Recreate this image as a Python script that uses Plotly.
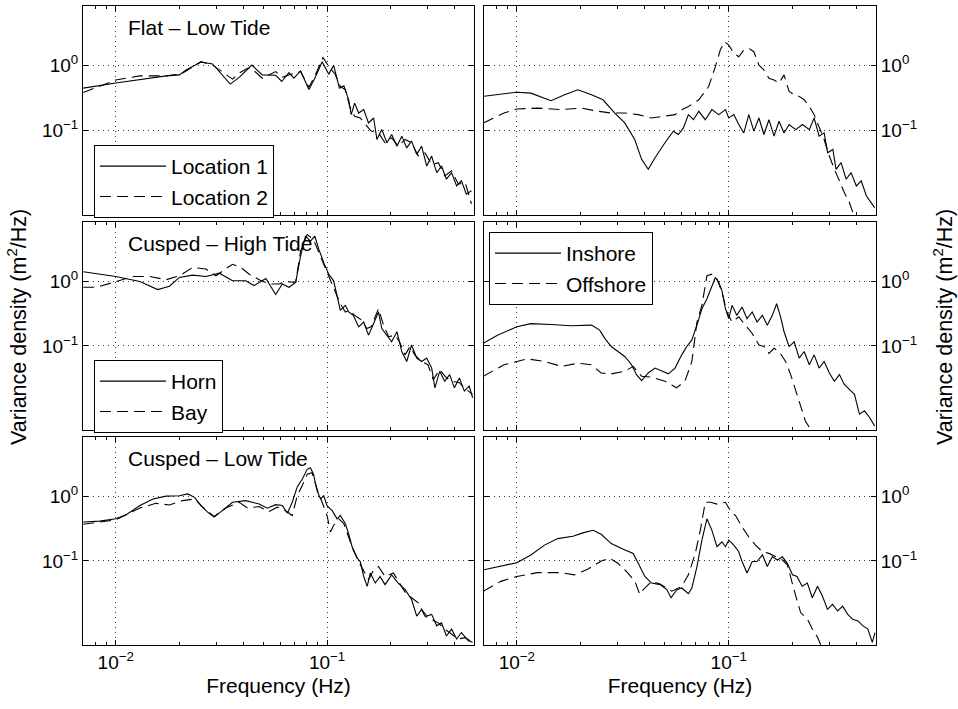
import math
import plotly.graph_objects as go

# ---------------- data (frequency Hz, variance density m^2/Hz) ----------------
flat_loc1 = [(0.00702,0.45),(0.01,0.54),(0.01734,0.695),(0.02,0.72),(0.0215,0.86),(0.0253,1.14),(0.0287,1.06),
             (0.032,0.72),(0.0348,0.52),(0.0384,0.66),(0.044,1.02),(0.0494,0.72),(0.0571,0.71),(0.061,0.57),
             (0.066,0.78),(0.0696,0.64),(0.0749,0.83),(0.082,0.43),(0.0875,0.64),(0.0947,1.15),(0.1018,0.74),
             (0.1074,1.01),(0.1143,0.45),(0.12,0.49),(0.1264,0.30),(0.130,0.176),(0.135,0.265),(0.141,0.186),
             (0.149,0.21),(0.157,0.131),(0.166,0.156),(0.172,0.073),(0.1815,0.1035),(0.192,0.065),(0.202,0.087),
             (0.214,0.0575),(0.2256,0.082),(0.238,0.054),(0.251,0.0687),(0.2654,0.043),(0.28,0.0575),
             (0.296,0.0284),(0.3124,0.0405),(0.33,0.0225),(0.348,0.0284),(0.367,0.0178),(0.388,0.0225),
             (0.41,0.014),(0.432,0.0168),(0.456,0.0105),(0.482,0.0118)]
flat_loc2 = [(0.00702,0.386),(0.01,0.60),(0.013,0.695),(0.0173,0.695),(0.0204,0.745),(0.0253,1.15),(0.0287,1.02),
             (0.0332,0.745),(0.0357,0.62),(0.0382,0.76),(0.042,0.91),(0.0443,0.88),(0.0494,0.64),(0.0571,0.81),
             (0.061,0.66),(0.066,0.72),(0.0749,0.81),(0.082,0.466),(0.088,0.72),(0.0955,1.34),(0.1018,0.97),
             (0.109,0.745),(0.1156,0.477),(0.122,0.425),(0.128,0.235),(0.135,0.166),(0.1435,0.156),(0.152,0.124),
             (0.1615,0.098),(0.175,0.092),(0.188,0.065),(0.202,0.077),(0.217,0.0575),(0.234,0.073),(0.251,0.065),
             (0.27,0.0405),(0.29,0.0455),(0.3124,0.030),(0.336,0.032),(0.36,0.020),(0.388,0.0239),
             (0.418,0.0149),(0.45,0.0158),(0.482,0.0074)]
flat_inshore = [(0.00695,0.336),(0.01,0.39),(0.01165,0.377),(0.0145,0.288),(0.0168,0.356),(0.0194,0.425),
                (0.0225,0.356),(0.0255,0.298),(0.029,0.186),(0.0323,0.131),(0.036,0.0728),(0.0388,0.036),
                (0.0417,0.0253),(0.0449,0.0382),(0.050,0.0648),(0.0548,0.0977),(0.0579,0.087),(0.0611,0.11),
                (0.0645,0.176),(0.0682,0.147),(0.0722,0.198),(0.0775,0.147),(0.0833,0.21),(0.0897,0.176),
                (0.0965,0.21),(0.1,0.156),(0.1057,0.176),(0.1115,0.124),(0.1178,0.092),(0.1244,0.176),
                (0.1314,0.098),(0.1388,0.156),(0.1466,0.087),(0.1548,0.147),(0.1636,0.082),(0.1727,0.139),
                (0.1824,0.092),(0.1927,0.124),(0.207,0.1035),(0.223,0.124),(0.24,0.1035),(0.253,0.156),
                (0.267,0.082),(0.282,0.092),(0.293,0.0455),(0.31,0.0512),(0.321,0.0253),(0.339,0.032),
                (0.358,0.0178),(0.378,0.0225),(0.40,0.014),(0.422,0.0168),(0.446,0.0099),(0.47,0.0078),(0.488,0.0065)]
flat_offshore = [(0.00695,0.131),(0.0087,0.186),(0.01,0.215),(0.0125,0.222),(0.0162,0.21),(0.0201,0.222),
                 (0.0242,0.198),(0.0279,0.186),(0.0323,0.186),(0.0374,0.176),(0.0432,0.156),(0.05,0.166),
                 (0.0558,0.176),(0.06,0.21),(0.0645,0.235),(0.0722,0.298),(0.0804,0.477),(0.0865,0.966),
                 (0.0912,1.74),(0.0957,2.33),(0.1,2.07),(0.1057,1.55),(0.1115,1.37),(0.1178,1.74),(0.1244,1.84),
                 (0.1314,1.64),(0.1388,1.02),(0.1466,0.86),(0.1548,0.64),(0.1636,0.60),(0.1727,0.54),(0.1824,0.72),
                 (0.1927,0.40),(0.2037,0.356),(0.215,0.336),(0.227,0.298),(0.24,0.235),(0.253,0.176),(0.267,0.116),
                 (0.282,0.0728),(0.2985,0.0405),(0.315,0.0253),(0.333,0.0168),(0.351,0.0111),(0.371,0.0078),(0.385,0.0055)]

high_horn = [(0.00702,1.41),(0.01,1.19),(0.013,0.995),(0.0158,0.745),(0.01795,0.84),(0.02,1.15),(0.0231,1.25),
             (0.0267,1.19),(0.0309,1.34),(0.0357,1.02),(0.0412,1.02),(0.0451,0.86),(0.0513,1.11),(0.0571,0.625),
             (0.0614,0.91),(0.066,0.81),(0.071,0.965),(0.0749,2.47),(0.079,5.0),(0.0834,4.19),(0.0875,5.0),
             (0.0914,3.13),(0.0964,1.95),(0.1018,1.29),(0.1074,1.02),(0.1114,0.60),(0.1155,0.356),(0.122,0.425),
             (0.1264,0.336),(0.133,0.298),(0.141,0.198),(0.149,0.235),(0.157,0.147),(0.166,0.222),(0.175,0.336),
             (0.1815,0.186),(0.192,0.147),(0.202,0.116),(0.214,0.166),(0.2256,0.082),(0.238,0.0575),(0.251,0.1035),
             (0.2654,0.065),(0.28,0.0575),(0.296,0.065),(0.3124,0.0455),(0.3236,0.0225),(0.341,0.0405),
             (0.36,0.0284),(0.38,0.036),(0.40,0.0225),(0.4226,0.032),(0.446,0.020),(0.47,0.0239),(0.488,0.0158)]
high_bay = [(0.00702,0.81),(0.0081,0.81),(0.01,0.99),(0.0121,1.19),(0.0145,1.19),(0.0173,1.06),(0.02,1.22),
            (0.0231,1.64),(0.0267,1.55),(0.0298,1.22),(0.0326,1.51),(0.0357,1.84),(0.0391,1.64),(0.0428,1.29),
            (0.0477,1.06),(0.053,0.91),(0.0592,0.91),(0.0636,0.99),(0.071,0.965),(0.0749,2.95),(0.0805,5.3),
            (0.0862,4.45),(0.0914,2.78),(0.0964,1.84),(0.1018,1.15),(0.109,0.68),(0.1155,0.45),(0.122,0.336),
            (0.128,0.356),(0.135,0.298),(0.146,0.25),(0.154,0.186),(0.1615,0.198),(0.175,0.377),(0.185,0.21),
            (0.1955,0.139),(0.21,0.147),(0.22,0.116),(0.234,0.0728),(0.2465,0.098),(0.26,0.0728),(0.28,0.0575),
            (0.30,0.0512),(0.318,0.030),(0.341,0.043),(0.367,0.032),(0.39,0.0284),(0.4226,0.027),(0.446,0.0225),
            (0.488,0.0178)]
high_inshore = [(0.00695,0.11),(0.0081,0.147),(0.01,0.198),(0.01165,0.222),(0.0145,0.215),(0.018,0.205),
                (0.0225,0.21),(0.0246,0.176),(0.026,0.131),(0.0279,0.098),(0.030,0.082),(0.0323,0.0687),
                (0.0348,0.0512),(0.0367,0.036),(0.0388,0.0291),(0.0417,0.0382),(0.0449,0.0455),(0.0483,0.0405),
                (0.0519,0.037),(0.0558,0.0455),(0.060,0.0728),(0.0634,0.098),(0.067,0.124),(0.0708,0.21),
                (0.0747,0.377),(0.0789,0.54),(0.0833,0.86),(0.0865,1.15),(0.0897,0.965),(0.0929,0.72),
                (0.0965,0.377),(0.1,0.265),(0.1037,0.425),(0.1091,0.298),(0.1156,0.40),(0.122,0.265),
                (0.1291,0.336),(0.136,0.235),(0.1442,0.298),(0.152,0.21),(0.1606,0.298),(0.1683,0.45),
                (0.1757,0.282),(0.1824,0.166),(0.1927,0.098),(0.2037,0.116),(0.215,0.065),(0.227,0.082),
                (0.24,0.0512),(0.253,0.0728),(0.267,0.0455),(0.282,0.0575),(0.2985,0.0382),(0.315,0.0284),
                (0.333,0.036),(0.351,0.0253),(0.371,0.0213),(0.392,0.0178),(0.414,0.0088),(0.437,0.0099),
                (0.462,0.0078),(0.488,0.0058)]
high_offshore = [(0.00695,0.034),(0.0087,0.0512),(0.0112,0.0632),(0.0135,0.0575),(0.0162,0.0483),(0.0194,0.054),
                 (0.0225,0.0512),(0.025,0.0382),(0.0279,0.037),(0.0323,0.0405),(0.0354,0.0483),(0.0388,0.034),
                 (0.0432,0.0329),(0.05,0.0284),(0.0567,0.0225),(0.0621,0.0284),(0.067,0.0575),(0.0708,0.235),
                 (0.0747,0.425),(0.0789,1.22),(0.0833,1.29),(0.088,1.09),(0.0929,0.68),(0.098,0.336),
                 (0.1037,0.235),(0.1115,0.282),(0.1197,0.21),(0.1291,0.156),(0.1388,0.1035),(0.1466,0.098),
                 (0.1548,0.077),(0.1636,0.092),(0.1727,0.082),(0.1855,0.0575),(0.196,0.036),(0.207,0.020),
                 (0.2185,0.011),(0.23,0.0069),(0.24,0.0055)]

low_horn = [(0.00702,0.40),(0.0084,0.414),(0.01,0.45),(0.0112,0.52),(0.013,0.72),(0.015,0.91),(0.0173,1.01),
            (0.02,1.02),(0.0219,1.09),(0.0236,0.965),(0.0253,0.72),(0.0272,0.57),(0.0292,0.477),(0.032,0.60),
            (0.0357,0.81),(0.0412,0.86),(0.0477,0.76),(0.0521,0.655),(0.0571,0.745),(0.0614,0.72),(0.0649,0.55),
            (0.0684,0.81),(0.0722,1.40),(0.0762,1.84),(0.0805,2.62),(0.0834,2.78),(0.0862,2.2),(0.0897,1.22),
            (0.0931,0.91),(0.0964,1.02),(0.0999,0.72),(0.1057,0.60),(0.1114,0.45),(0.1155,0.506),(0.122,0.377),
            (0.1264,0.265),(0.1313,0.166),(0.139,0.11),(0.1435,0.098),(0.149,0.0575),(0.1548,0.0405),
            (0.160,0.065),(0.169,0.0455),(0.178,0.0575),(0.188,0.043),(0.202,0.061),(0.217,0.0455),(0.234,0.036),
            (0.251,0.0253),(0.2654,0.014),(0.28,0.0178),(0.296,0.014),(0.3124,0.0149),(0.33,0.0099),(0.348,0.011),
            (0.367,0.0069),(0.388,0.0088),(0.41,0.0062),(0.432,0.0078),(0.466,0.0058),(0.488,0.0055)]
low_bay = [(0.00702,0.37),(0.01,0.434),(0.013,0.66),(0.0155,0.78),(0.01795,0.737),(0.0207,0.86),(0.0236,0.91),
           (0.0258,0.68),(0.0292,0.49),(0.0332,0.66),(0.0384,0.81),(0.042,0.66),(0.0477,0.695),(0.053,0.58),
           (0.0581,0.68),(0.0636,0.60),(0.0684,0.506),(0.0722,1.02),(0.0762,1.46),(0.0805,2.2),(0.0848,2.33),
           (0.0897,1.29),(0.0947,0.81),(0.0999,0.506),(0.1037,0.281),(0.1074,0.356),(0.1136,0.45),(0.12,0.377),
           (0.1264,0.235),(0.133,0.147),(0.141,0.098),(0.149,0.0687),(0.157,0.0512),(0.166,0.0728),(0.175,0.082),
           (0.188,0.0575),(0.206,0.065),(0.22,0.0455),(0.238,0.030),(0.251,0.027),(0.27,0.0225),(0.29,0.014),
           (0.3124,0.0125),(0.336,0.011),(0.36,0.0088),(0.388,0.0074),(0.418,0.0062),(0.45,0.0065),(0.488,0.0055)]
low_inshore = [(0.00695,0.0728),(0.0084,0.082),(0.01,0.094),(0.01165,0.124),(0.0135,0.176),(0.0156,0.222),
               (0.0184,0.241),(0.0205,0.272),(0.0229,0.298),(0.025,0.259),(0.0279,0.186),(0.0312,0.156),
               (0.0354,0.131),(0.0374,0.092),(0.0402,0.0575),(0.0432,0.0455),(0.0474,0.043),(0.051,0.036),
               (0.0534,0.0269),(0.0569,0.036),(0.06,0.0382),(0.0645,0.0311),(0.067,0.0382),(0.0708,0.082),
               (0.0747,0.21),(0.0789,0.45),(0.0833,0.298),(0.088,0.166),(0.0929,0.198),(0.0965,0.166),(0.1,0.21),
               (0.1057,0.176),(0.1115,0.139),(0.1156,0.098),(0.122,0.065),(0.1291,0.098),(0.136,0.098),
               (0.1442,0.124),(0.152,0.082),(0.1606,0.116),(0.1697,0.1035),(0.1792,0.116),(0.189,0.092),(0.2,0.061),
               (0.21,0.0575),(0.222,0.0405),(0.235,0.0455),(0.248,0.0269),(0.2625,0.0405),(0.277,0.0284),
               (0.2925,0.0178),(0.309,0.0213),(0.3265,0.0168),(0.345,0.020),(0.3645,0.0149),(0.385,0.0125),
               (0.407,0.0118),(0.43,0.0099),(0.4535,0.0088),(0.476,0.0055),(0.49,0.0078)]
low_offshore = [(0.00695,0.034),(0.0084,0.0483),(0.01,0.0575),(0.0125,0.066),(0.0162,0.066),(0.0187,0.061),
                (0.0216,0.0744),(0.025,0.1),(0.0275,0.11),(0.030,0.092),(0.0329,0.0687),(0.0361,0.0483),
                (0.038,0.0304),(0.0395,0.036),(0.0432,0.0483),(0.0474,0.044),(0.0538,0.034),(0.060,0.0405),
                (0.0645,0.061),(0.0695,0.131),(0.0734,0.298),(0.0775,0.81),(0.0822,0.81),(0.088,0.76),(0.0965,0.81),
                (0.1018,0.60),(0.1077,0.506),(0.1156,0.336),(0.1244,0.235),(0.1338,0.176),(0.1442,0.139),
                (0.1548,0.131),(0.1667,0.116),(0.1792,0.1035),(0.189,0.087),(0.1968,0.0512),(0.2074,0.0284),
                (0.2185,0.0159),(0.2355,0.0125),(0.2483,0.0088),(0.2625,0.0066),(0.2727,0.0049)]

panel_titles = ["Flat \u2013 Low Tide", "Cusped \u2013 High Tide", "Cusped \u2013 Low Tide"]
x_tick_vals = [0.01, 0.1]
x_tick_text = ["10<sup>\u22122</sup>", "10<sup>\u22121</sup>"]
x_minor_vals = [0.007, 0.008, 0.009, 0.02, 0.03, 0.04, 0.05, 0.06, 0.07, 0.08, 0.09, 0.2, 0.3, 0.4]
y_tick_vals = [0.1, 1]
y_tick_text = ["10<sup>\u22121</sup>", "10<sup>0</sup>"]

# panel -> (solid series, dashed series, solid name, dashed name, legend id or None)
panels = [
    (flat_loc1, flat_loc2, "Location 1", "Location 2", "legend"),
    (flat_inshore, flat_offshore, "Inshore", "Offshore", None),
    (high_horn, high_bay, "Horn", "Bay", "legend2"),
    (high_inshore, high_offshore, "Inshore", "Offshore", "legend3"),
    (low_horn, low_bay, "Horn", "Bay", None),
    (low_inshore, low_offshore, "Inshore", "Offshore", None),
]

# ---------------- figure ----------------
W, H = 958, 709
ML, MR, MT, MB = 83, 82, 6, 64
PW, PH = W - ML - MR, H - MT - MB

def px_x(p):
    return (p - ML) / PW

def px_y(p):
    return 1 - (p - MT) / PH

col_dom = [[px_x(83), px_x(474)], [px_x(484), px_x(876)]]
row_dom = [[px_y(215), px_y(6)], [px_y(430), px_y(222)], [px_y(645), px_y(437)]]

FONT = "Liberation Sans, Arial, Helvetica, sans-serif"
dash_style = "11px,6px"

fig = go.Figure()
layout = dict(
    width=W, height=H,
    margin=dict(l=ML, r=MR, t=MT, b=MB, pad=0),
    paper_bgcolor="white", plot_bgcolor="white",
    font=dict(family=FONT, size=20, color="black"),
    showlegend=True,
    annotations=[],
)

for i, (s1, s2, n1, n2, leg) in enumerate(panels):
    k = i + 1
    row, col = i // 2, i % 2
    xs = "x" if k == 1 else f"x{k}"
    ys = "y" if k == 1 else f"y{k}"
    for data, name, dash in ((s1, n1, "solid"), (s2, n2, dash_style)):
        fx = [p[0] for p in data]
        vy = [p[1] for p in data]
        fig.add_trace(go.Scatter(
            x=fx, y=vy, mode="lines", name=name,
            line=dict(color="black", width=1.1, dash=dash),
            xaxis=xs, yaxis=ys,
            showlegend=leg is not None,
            legend=leg if leg is not None else "legend",
            hoverinfo="skip",
        ))
    xa = dict(
        type="log", range=[-2.155, -0.305], domain=col_dom[col], anchor=ys,
        tickmode="array", tickvals=x_tick_vals, ticktext=x_tick_text,
        showticklabels=(row == 2), ticks="inside", ticklen=5, tickwidth=1, tickcolor="black",
        showline=True, linecolor="black", linewidth=1, mirror="ticks",
        showgrid=True, gridcolor="#333333", gridwidth=1, griddash="1px,4px",
        zeroline=False, tickfont=dict(size=19),
        minor=dict(tickmode="array", tickvals=x_minor_vals, ticks="inside", ticklen=3,
                   tickcolor="black", tickwidth=1, showgrid=False),
    )
    if row == 2:
        xa["title"] = dict(text="Frequency (Hz)", font=dict(size=21), standoff=6)
    ya = dict(
        type="log", range=[math.log10(0.005), math.log10(8.3)], domain=row_dom[row], anchor=xs,
        side="left" if col == 0 else "right",
        tickmode="array", tickvals=y_tick_vals, ticktext=y_tick_text,
        ticks="inside", ticklen=5, tickwidth=1, tickcolor="black",
        showline=True, linecolor="black", linewidth=1, mirror="ticks",
        showgrid=True, gridcolor="#333333", gridwidth=1, griddash="1px,4px",
        zeroline=False, tickfont=dict(size=19),
    )
    layout["xaxis" if k == 1 else f"xaxis{k}"] = xa
    layout["yaxis" if k == 1 else f"yaxis{k}"] = ya
    if col == 0:
        layout["annotations"].append(dict(
            text=panel_titles[row], xref=f"{xs} domain", yref=f"{ys} domain",
            x=0.11, y=0.895, xanchor="left", yanchor="middle", showarrow=False,
            font=dict(size=21, color="black"),
        ))

legend_common = dict(
    xanchor="left", yanchor="top", bgcolor="white", bordercolor="black", borderwidth=1,
    font=dict(size=21, color="black", family=FONT), itemwidth=66, tracegroupgap=0,
    itemclick=False, itemdoubleclick=False,
)
layout["legend"] = dict(x=px_x(94), y=px_y(145), **legend_common)
layout["legend2"] = dict(x=px_x(94), y=px_y(360), **legend_common)
layout["legend3"] = dict(x=px_x(489), y=px_y(232), **legend_common)

ylabel = "Variance density (m<sup>2</sup>/Hz)"
layout["annotations"].append(dict(text=ylabel, xref="paper", yref="paper", x=px_x(17), y=px_y(327),
                                  xanchor="center", yanchor="middle", textangle=-90, showarrow=False,
                                  font=dict(size=21.5)))
layout["annotations"].append(dict(text=ylabel, xref="paper", yref="paper", x=px_x(943), y=px_y(327),
                                  xanchor="center", yanchor="middle", textangle=-90, showarrow=False,
                                  font=dict(size=21.5)))

fig.update_layout(**layout)
fig.write_html("out.html")
